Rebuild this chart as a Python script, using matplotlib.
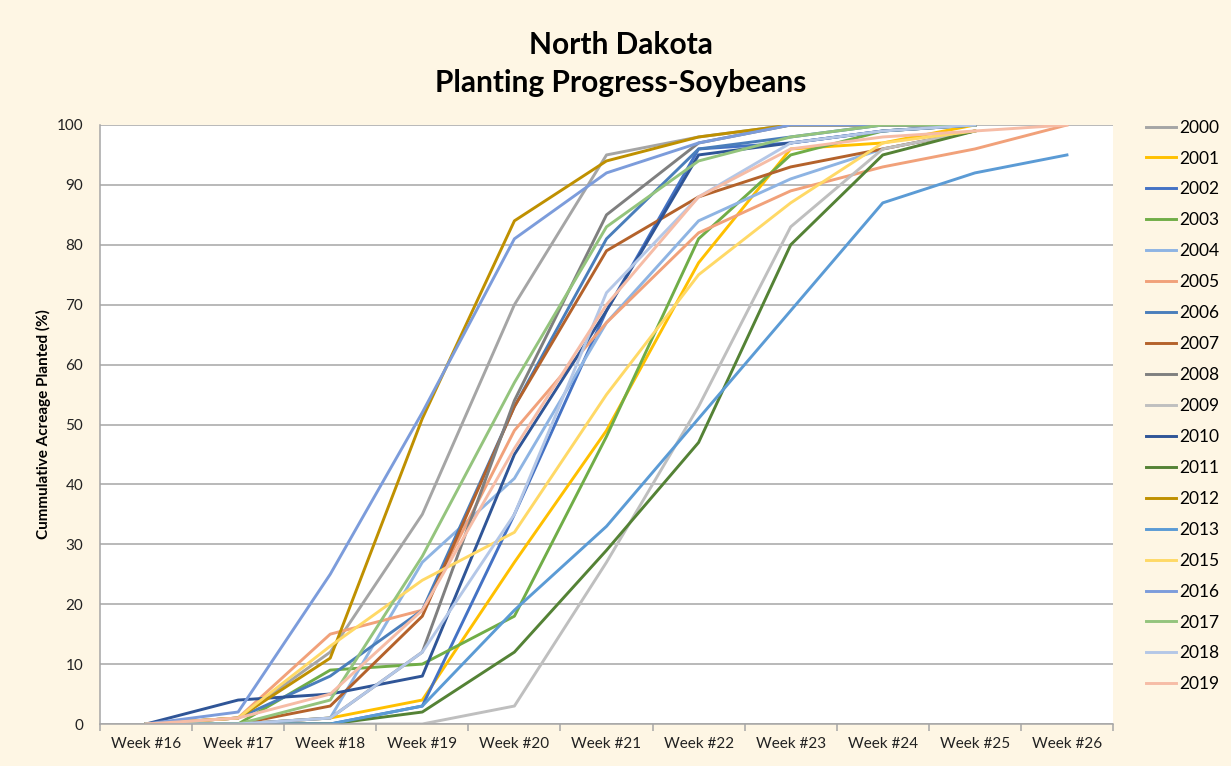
import numpy as np
import matplotlib
matplotlib.use("Agg")
import matplotlib.pyplot as plt

plt.rcParams['font.family'] = ['Lato', 'DejaVu Sans']

weeks = ["Week #16", "Week #17", "Week #18", "Week #19", "Week #20", "Week #21",
         "Week #22", "Week #23", "Week #24", "Week #25", "Week #26"]

years = ["2000", "2001", "2002", "2003", "2004", "2005", "2006", "2007", "2008", "2009",
         "2010", "2011", "2012", "2013", "2015", "2016", "2017", "2018", "2019"]

p2000 = [0, 1, 12, 35, 70, 95, 98, 100, 100, 100, np.nan]
p2001 = [0, 0, 1, 4, 27, 49, 77, 96, 97, 100, np.nan]
p2002 = [0, 0, 0, 3, 35, 69, 96, 97, 99, 100, np.nan]
p2003 = [0, 0, 9, 10, 18, 48, 81, 95, 99, 100, np.nan]
p2004 = [0, 0, 1, 27, 41, 67, 84, 91, 96, 99, np.nan]
p2005 = [0, 1, 15, 19, 49, 67, 82, 89, 93, 96, 100]
p2006 = [0, 1, 8, 19, 53, 81, 96, 98, 100, 100, np.nan]
p2007 = [0, 0, 3, 18, 53, 79, 88, 93, 96, 99, np.nan]
p2008 = [0, 0, 1, 12, 54, 85, 97, 100, 100, 100, np.nan]
p2009 = [0, 0, 0, 0, 3, 27, 53, 83, 96, 99, np.nan]
p2010 = [0, 4, 5, 8, 45, 69, 95, 97, 99, 100, np.nan]
p2011 = [0, 0, 0, 2, 12, 29, 47, 80, 95, 99, np.nan]
p2012 = [0, 1, 11, 51, 84, 94, 98, 100, 100, 100, np.nan]
p2013 = [0, 0, 0, 3, 19, 33, 51, 69, 87, 92, 95]
p2015 = [0, 1, 13, 24, 32, 55, 75, 87, 97, 99, np.nan]
p2016 = [0, 2, 25, 52, 81, 92, 97, 100, 100, 100, np.nan]
p2017 = [0, 0, 4, 28, 57, 83, 94, 98, 100, 100, np.nan]
p2018 = [0, 0, 1, 12, 35, 72, 88, 97, 99, 100, np.nan]
p2019 = [0, 1, 5, 19, 46, 70, 88, 96, 98, 99, 100]

series = [p2000, p2001, p2002, p2003, p2004, p2005, p2006, p2007, p2008, p2009,
          p2010, p2011, p2012, p2013, p2015, p2016, p2017, p2018, p2019]

colors = ["#A5A5A5", "#FFC000", "#4472C4", "#70AD47", "#8EB4E3", "#F1A17A",
          "#4A7EBB", "#B4622B", "#7F7F7F", "#BFBFBF", "#2F5597", "#548235",
          "#BF9000", "#5B9BD5", "#FFD966", "#7C9CDB", "#94C47D", "#B4C7E7", "#F6BCA6"]

bg = "#FEF6E4"
fig = plt.figure(figsize=(12.31, 7.66), dpi=100, facecolor=bg)
ax = fig.add_axes([100 / 1231, 42 / 766, 1013 / 1231, 599 / 766])
ax.set_facecolor("white")

x = np.arange(len(weeks))
for yr, vals, c in zip(years, series, colors):
    ax.plot(x, vals, color=c, lw=2.1, label=yr, solid_joinstyle='round')

ax.set_xlim(-0.5, len(weeks) - 0.5)
ax.set_ylim(0, 100)
ax.set_yticks(range(0, 101, 10))
ax.yaxis.grid(True, color="#A6A6A6", lw=1.1)
ax.set_axisbelow(True)
ax.tick_params(axis='y', length=0, labelsize=11, pad=12, labelcolor="#222222")

ax.set_xticks(x)
ax.set_xticklabels(weeks, fontsize=11, color="#222222")
ax.set_xticks(np.arange(-0.5, len(weeks)), minor=True)
ax.tick_params(axis='x', which='major', length=0, pad=9)
ax.tick_params(axis='x', which='minor', length=5, color="#A6A6A6", width=1.1)

for s in ['top', 'right']:
    ax.spines[s].set_visible(False)
for s in ['left', 'bottom']:
    ax.spines[s].set_color("#A6A6A6")
    ax.spines[s].set_linewidth(1.1)

ax.set_ylabel("Cummulative Acreage Planted (%)", fontsize=11, fontweight='bold', labelpad=4)

fig.text(621 / 1231, 1 - 45 / 766, "North Dakota", ha='center', va='center',
         fontsize=21.5, fontweight='bold')
fig.text(621 / 1231, 1 - 83 / 766, "Planting Progress-Soybeans", ha='center', va='center',
         fontsize=21.5, fontweight='bold')

fig.legend(loc='upper left', bbox_to_anchor=(1130 / 1231, 1 - 104 / 766), frameon=False,
           fontsize=12.5, handlelength=1.75, handletextpad=0.2, labelspacing=0.86)

fig.savefig("out.png", dpi=100, facecolor=bg)
